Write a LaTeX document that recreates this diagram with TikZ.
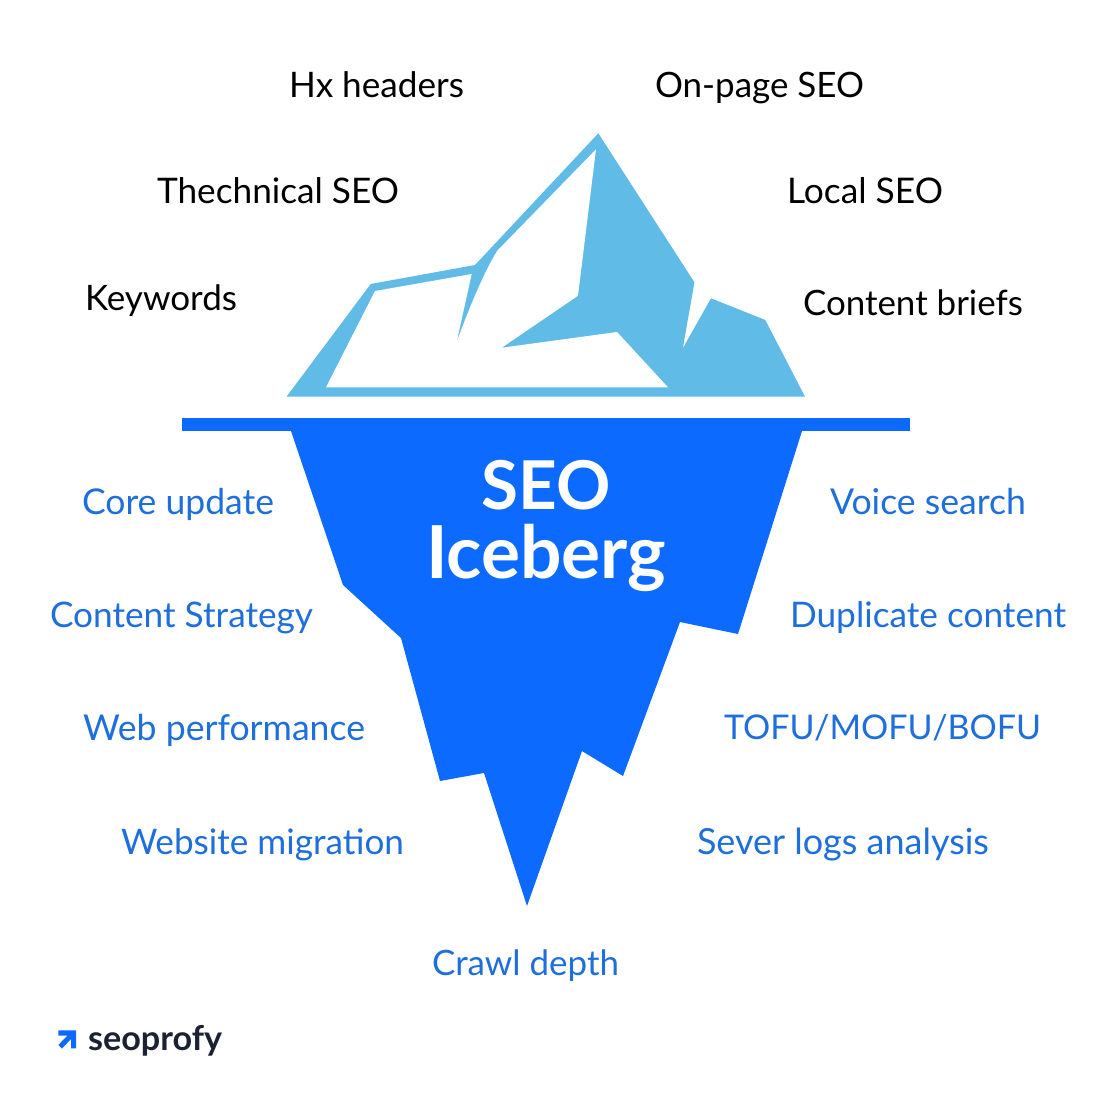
\documentclass[tikz,border=0pt]{standalone}
\usepackage{fontspec}
\usepackage{graphicx}
\setmainfont{Lato}
\definecolor{icelight}{HTML}{60BBE6}
\definecolor{icedeep}{HTML}{0D6AFE}
\definecolor{labelblue}{HTML}{1E6FDC}
\definecolor{logoink}{HTML}{1B2333}
\tikzset{
  lab/.style={anchor=base west,inner sep=0pt,outer sep=0pt,font=\fontsize{32}{36}\selectfont},
  blacklab/.style={lab,text=black},
  bluelab/.style={lab,text=labelblue},
  titlelab/.style={anchor=base west,inner sep=0pt,outer sep=0pt,text=white,font=\fontsize{62}{70}\selectfont\bfseries},
  logolab/.style={anchor=base west,inner sep=0pt,outer sep=0pt,text=logoink,font=\fontsize{34}{38}\selectfont\bfseries},
}
\newcommand{\fitw}[2]{\resizebox{#1pt}{!}{#2}}
\begin{document}
\begin{tikzpicture}[x=1pt,y=-1pt]
\useasboundingbox (0,0) rectangle (1115,1112);
\fill[white] (0,0) rectangle (1115,1112);
% upper iceberg
\fill[icelight] (286.5,396.7) -- (370.7,284) -- (475,265) -- (598.3,133.3) -- (694.4,282.3) -- (682.8,348.3) -- (711,298.3) -- (765.3,320) -- (805,396.7) -- cycle;
\fill[white] (326,387.3) -- (375,291) -- (471.7,274) -- (456.7,341.7) .. controls (470,306) and (484,272) .. (497.3,250.7) -- (596,149.3) -- (578,295.7) -- (501.7,347.7) -- (617,332) -- (668,387.3) -- cycle;
% water line and lower iceberg
\fill[icedeep] (182,418) rectangle (910,431);
\fill[icedeep] (291,425) -- (291,431) -- (343,585) -- (401,638) -- (440,781) -- (484,773) -- (527,906) -- (582,751) -- (623,776) -- (680,622) -- (738,634) -- (802,431) -- (802,425) -- cycle;
% labels
\node[blacklab] (hx) at (289,97) {\fitw{175}{Hx headers}};
\node[blacklab] (onpage) at (655,97) {\fitw{209}{On-page SEO}};
\node[blacklab] (tech) at (157,203) {\fitw{242}{Thechnical SEO}};
\node[blacklab] (local) at (787,203) {\fitw{156}{Local SEO}};
\node[blacklab] (kw) at (85,310) {\fitw{152}{Keywords}};
\node[blacklab] (briefs) at (803,315) {\fitw{220}{Content briefs}};
\node[bluelab] (core) at (82,514) {\fitw{192}{Core update}};
\node[bluelab] (voice) at (830,514) {\fitw{196}{Voice search}};
\node[bluelab] (strategy) at (50,627) {\fitw{263}{Content Strategy}};
\node[bluelab] (dup) at (790,627) {\fitw{276}{Duplicate content}};
\node[bluelab] (web) at (83,740) {\fitw{282}{Web performance}};
\node[bluelab] (tofu) at (724,739.5) {\fitw{317}{TOFU/MOFU/BOFU}};
\node[bluelab] (migr) at (121,854) {\fitw{283}{Website migration}};
\node[bluelab] (logs) at (697,854) {\fitw{292}{Sever logs analysis}};
\node[bluelab] (crawl) at (432,975) {\fitw{187}{Crawl depth}};
% title
\node[titlelab] (seo) at (481.5,509) {\fitw{129}{SEO}};
\node[titlelab] (ice) at (426,578) {\fitw{240}{Iceberg}};
% logo
\fill[icedeep] (58.3,1030.3) -- (76,1030.3) -- (76,1048.3) -- (71,1048.3) -- (71,1039) -- (62,1048.5) -- (58.3,1045) -- (67.5,1035.5) -- (58.3,1035.5) -- cycle;
\node[logolab] (logo) at (88,1050) {\fitw{134}{seoprofy}};
\end{tikzpicture}
\end{document}
